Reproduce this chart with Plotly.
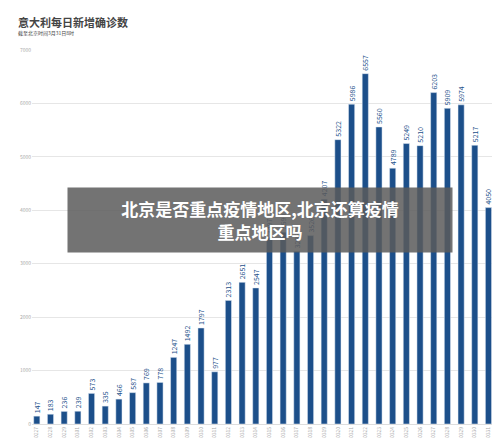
import plotly.graph_objects as go

dates = ['0227', '0228', '0229'] + ['03%02d' % d for d in range(1, 32)]
cases = [147, 183, 236, 239, 573, 335, 466, 587, 769, 778, 1247, 1492, 1797, 977,
         2313, 2651, 2547, 3497, 3590, 3233, 3526, 4207, 5322, 5986, 6557, 5560,
         4789, 5249, 5210, 6203, 5909, 5974, 5217, 4050]

fig = go.Figure(go.Bar(
    x=dates, y=cases, marker_color='#1c4f8a', width=0.45,
    text=cases, textposition='outside', textangle=-90,
    textfont=dict(size=7, color='#1c4f8a'), cliponaxis=False,
))

fig.update_layout(
    width=500, height=442,
    margin=dict(l=22, r=12, t=42, b=24),
    plot_bgcolor='white', paper_bgcolor='white',
    font=dict(family='Noto Sans CJK SC', color='#999'),
    showlegend=False,
    uniformtext=dict(minsize=7, mode='show'),
    annotations=[
        dict(text='<b>意大利每日新增确诊数</b>', x=0, y=1, xref='paper', yref='paper',
             xshift=-16, yshift=38, xanchor='left', yanchor='top', showarrow=False,
             font=dict(size=11, color='#444')),
        dict(text='截至北京时间3月31日8时', x=0, y=1, xref='paper', yref='paper',
             xshift=-16, yshift=23, xanchor='left', yanchor='top', showarrow=False,
             font=dict(size=5, color='#444')),
        dict(text='<b>北京是否重点疫情地区,北京还算疫情<br>重点地区吗</b>', x=0.5, y=0.5,
             xref='paper', yref='paper', showarrow=False, xanchor='center', yanchor='middle',
             yshift=17, xshift=-4,
             font=dict(size=17, color='white'), bgcolor='rgba(90,90,90,0.85)',
             width=382, height=62),
    ],
)
fig.update_xaxes(tickfont=dict(size=5, color='#aaa'), tickangle=-90, showline=True,
                 linecolor='#ddd', showgrid=False, range=[-0.35, 33.55])
fig.update_yaxes(range=[0, 7000], dtick=1000, tickfont=dict(size=5, color='#aaa'),
                 gridcolor='#e6e6e6', zeroline=False)

fig.write_html("out.html")
